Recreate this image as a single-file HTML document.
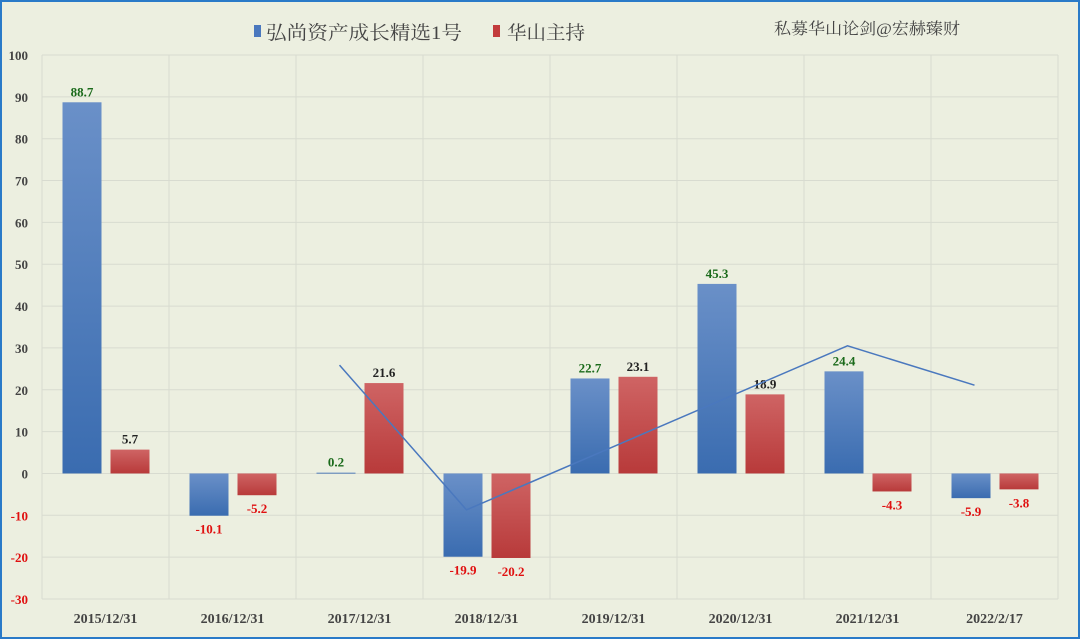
<!DOCTYPE html>
<html><head><meta charset="utf-8"><style>
html,body{margin:0;padding:0;background:#ecefe0;}
svg{display:block;}
text{font-family:"Liberation Serif","Noto Serif CJK SC",serif;}
</style></head><body>
<svg id="chart" width="1080" height="639" xmlns="http://www.w3.org/2000/svg">
<defs>
<linearGradient id="gb" x1="0" y1="0" x2="0" y2="1"><stop offset="0" stop-color="#6a90c8"/><stop offset="1" stop-color="#3a6cb0"/></linearGradient>
<linearGradient id="gr" x1="0" y1="0" x2="0" y2="1"><stop offset="0" stop-color="#cf6464"/><stop offset="1" stop-color="#b83a3a"/></linearGradient>
</defs>
<rect x="1" y="1" width="1078" height="637" fill="#ecefe0" stroke="#2a7ac8" stroke-width="2"/>
<g id="grid"></g>
<g id="bars"></g>
<g id="labels"></g>
<g id="legend">
<rect x="254" y="25" width="7" height="12" fill="#4a78be"/>
<text x="266" y="39" font-size="19" textLength="196" lengthAdjust="spacingAndGlyphs" fill="#444">弘尚资产成长精选1号</text>
<rect x="493" y="25" width="7" height="12" fill="#c23c3c"/>
<text x="507" y="39" font-size="19" textLength="78" lengthAdjust="spacingAndGlyphs" fill="#444">华山主持</text>
</g>
<text x="774" y="34" font-size="16" textLength="186" lengthAdjust="spacingAndGlyphs" fill="#444">私募华山论剑@宏赫臻财</text>
</svg>
<script>
const categories=["2015/12/31","2016/12/31","2017/12/31","2018/12/31","2019/12/31","2020/12/31","2021/12/31","2022/2/17"];
const fundValues=[88.7,-10.1,0.2,-19.9,22.7,45.3,24.4,-5.9];
const huashanValues=[5.7,-5.2,21.6,-20.2,23.1,18.9,-4.3,-3.8];
const lineValues=[null,null,25.9,-8.7,null,null,30.5,21.1];
const yTicks=[100,90,80,70,60,50,40,30,20,10,0,-10,-20,-30];
const NS="http://www.w3.org/2000/svg";
const L=42,R=1058,T=55,B=599,yMin=-30,yMax=100;
const bw=(R-L)/categories.length;
function y(v){return T+(yMax-v)/(yMax-yMin)*(B-T);}
function xc(i){return L+bw*(i+0.5);}
function mk(tag,attrs,parent,txt){const e=document.createElementNS(NS,tag);for(const k in attrs)e.setAttribute(k,attrs[k]);if(txt!==undefined)e.textContent=txt;document.getElementById(parent).appendChild(e);return e;}
yTicks.forEach(t=>{
 const g=mk('line',{x1:L,x2:R,y1:y(t),y2:y(t),stroke:'#d8dbd0','stroke-width':1},'grid');
 
 
 const lb=mk('text',{x:28,y:y(t)+5,'text-anchor':'end','font-size':13,'font-weight':'bold',fill:t<0?'#e01010':'#444'},'grid',String(t));
 
 
});
for(let i=0;i<=categories.length;i++){
 const v=mk('line',{x1:L+bw*i,x2:L+bw*i,y1:T,y2:B,stroke:'#d8dbd0','stroke-width':1},'grid');
 
 
}
categories.forEach((c,i)=>{
 const t=mk('text',{x:xc(i),y:623,'text-anchor':'middle','font-size':14,'font-weight':'bold',fill:'#444'},'labels',c);
 
 
 [[fundValues[i],-43,'url(#gb)','bar-fund','#1a6a1a'],[huashanValues[i],5,'url(#gr)','bar-huashan','#222']].forEach(([v,off,fill,name,pc])=>{
  const y0=y(0),yv=y(v);
  const r=mk('rect',{x:xc(i)+off,y:Math.min(y0,yv),width:39,height:Math.max(1,Math.abs(yv-y0)),fill:fill},'bars');
  
  
  const ty=v>=0?yv-6:yv+18;
  const l=mk('text',{x:xc(i)+off+19.5,y:ty,'text-anchor':'middle','font-size':13,'font-weight':'bold',fill:v<0?'#e01010':pc},'labels',String(v));
  
  
 });
});
const pts=[];lineValues.forEach((v,i)=>{if(v!==null)pts.push((xc(i)-20)+','+y(v));});
const pl=mk('polyline',{points:pts.join(' '),fill:'none',stroke:'#4a78be','stroke-width':1.5},'labels');


</script>
</body></html>
